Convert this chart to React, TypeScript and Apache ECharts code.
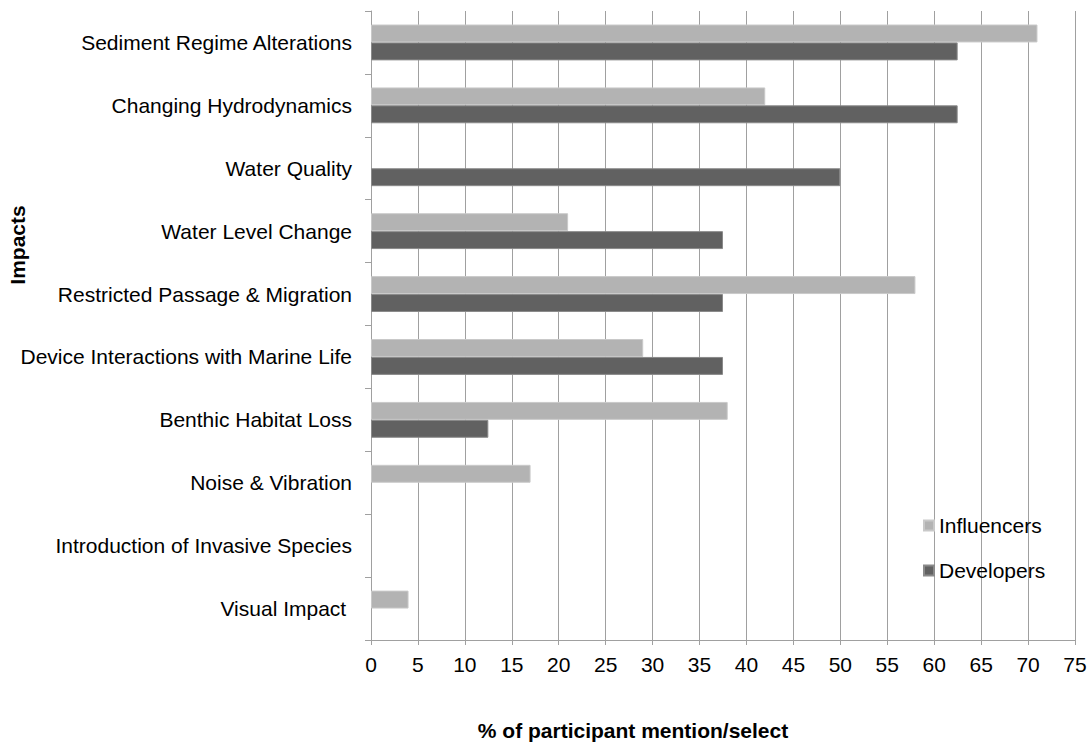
import React, { useEffect, useRef } from "react";
import * as echarts from "echarts";

// Impact categories, top to bottom
const categories: string[] = [
  "Sediment Regime Alterations",
  "Changing Hydrodynamics",
  "Water Quality",
  "Water Level Change",
  "Restricted Passage & Migration",
  "Device Interactions with Marine Life",
  "Benthic Habitat Loss",
  "Noise & Vibration",
  "Introduction of Invasive Species",
  "Visual Impact ",
];

// % of participants mentioning / selecting each impact
const influencers: number[] = [71, 42, 0, 21, 58, 29, 38, 17, 0, 4];
const developers: number[] = [62.5, 62.5, 50, 37.5, 37.5, 37.5, 12.5, 0, 0, 0];

const xTicks = { min: 0, max: 75, interval: 5 };

const FONT = "'Liberation Sans', Arial, sans-serif";
const AXIS_GREY = "#a0a0a0";

// zero-length bars are left empty so their outline doesn't show as a sliver
const toBarData = (values: number[]) => values.map((v) => (v === 0 ? null : v));

export default function App() {
  const ref = useRef<HTMLDivElement>(null);

  useEffect(() => {
    if (!ref.current) return;
    const chart = echarts.init(ref.current, undefined, { renderer: "svg" });
    chart.setOption({
      animation: false,
      backgroundColor: "#ffffff",
      textStyle: { fontFamily: FONT },
      grid: { left: 371, right: 15, top: 11, bottom: 102, containLabel: false },
      legend: {
        orient: "vertical",
        left: 918,
        top: 510,
        itemWidth: 10,
        itemHeight: 10,
        itemGap: 24,
        icon: "rect",
        textStyle: { fontFamily: FONT, fontSize: 21, color: "#000" },
        data: ["Influencers", "Developers"],
      },
      xAxis: {
        type: "value",
        min: xTicks.min,
        max: xTicks.max,
        interval: xTicks.interval,
        axisLine: { show: true, lineStyle: { color: AXIS_GREY, width: 1 } },
        axisTick: { show: true, length: 5, lineStyle: { color: AXIS_GREY } },
        axisLabel: { fontFamily: FONT, fontSize: 21, color: "#000", margin: 14 },
        splitLine: { show: true, lineStyle: { color: AXIS_GREY, width: 1 } },
      },
      yAxis: {
        type: "category",
        inverse: true,
        data: categories,
        axisLine: { show: true, lineStyle: { color: AXIS_GREY, width: 1 } },
        axisTick: { show: true, length: 6, inside: false, lineStyle: { color: AXIS_GREY } },
        axisLabel: { fontFamily: FONT, fontSize: 21, color: "#000", margin: 19 },
        splitLine: { show: false },
      },
      series: [
        {
          name: "Influencers",
          type: "bar",
          data: toBarData(influencers),
          barGap: "0%",
          barCategoryGap: "43%",
          itemStyle: { color: "#b3b3b3", borderColor: "#c9c9c9", borderWidth: 1 },
        },
        {
          name: "Developers",
          type: "bar",
          data: toBarData(developers),
          barGap: "0%",
          barCategoryGap: "43%",
          itemStyle: { color: "#616161", borderColor: "#8a8a8a", borderWidth: 1 },
        },
      ],
      graphic: [
        {
          type: "text",
          x: 17.5,
          y: 245,
          rotation: Math.PI / 2,
          style: {
            text: "Impacts",
            font: `bold 21px ${FONT}`,
            fill: "#000",
            align: "center",
            verticalAlign: "middle",
          },
        },
        {
          type: "text",
          x: 633,
          y: 730,
          style: {
            text: "% of participant mention/select",
            font: `bold 21px ${FONT}`,
            fill: "#000",
            align: "center",
            verticalAlign: "middle",
          },
        },
      ],
    });
    return () => chart.dispose();
  }, []);

  return <div ref={ref} style={{ width: 1090, height: 742, position: "absolute", left: 0, top: 0 }} />;
}
